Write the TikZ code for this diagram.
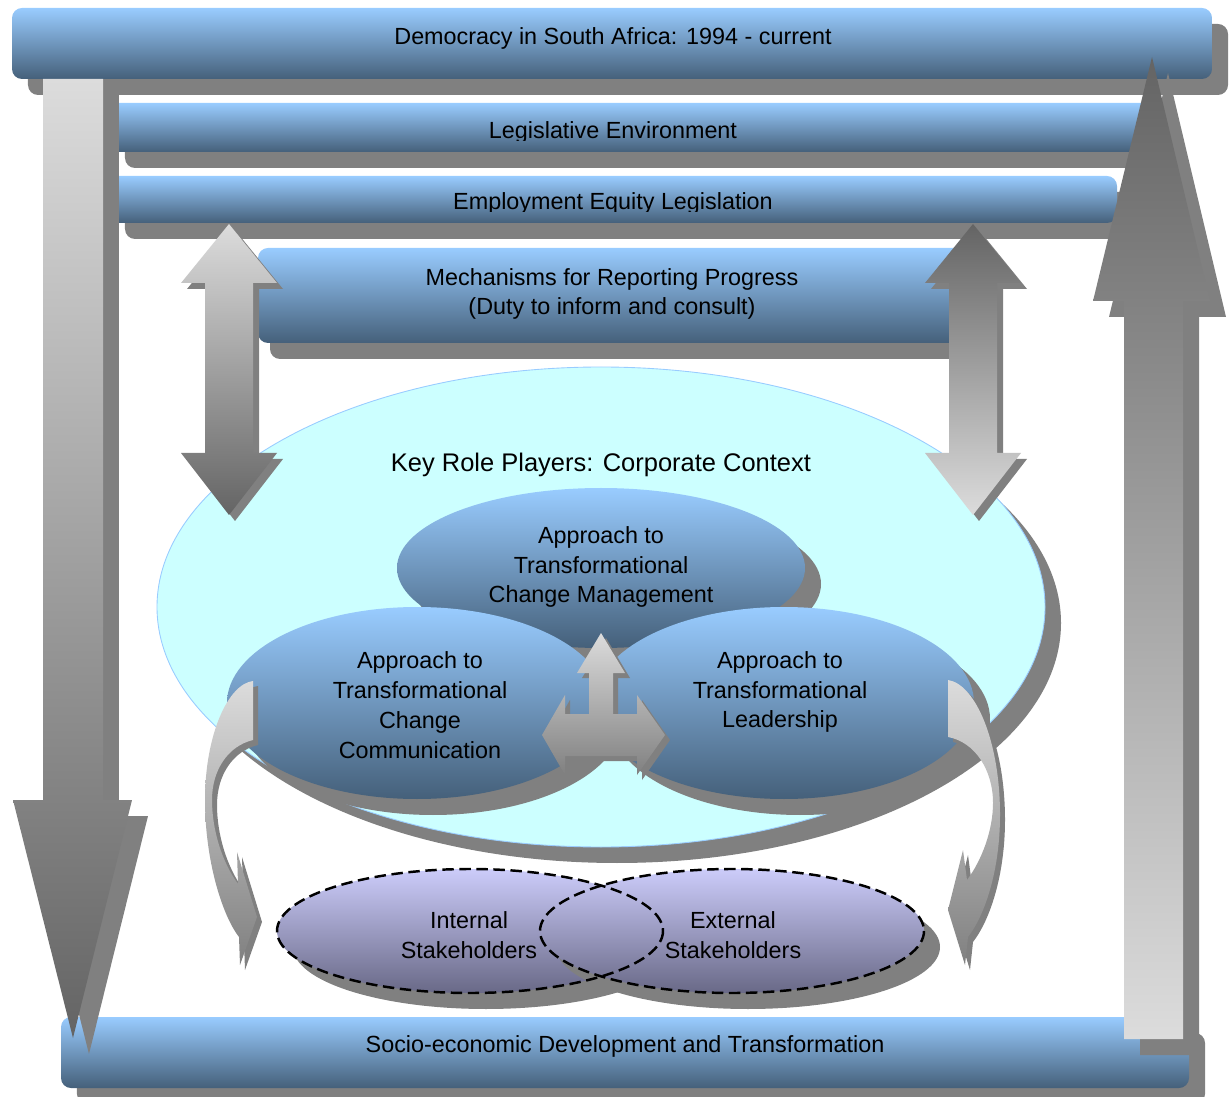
\documentclass[tikz,border=0pt]{standalone}
\usepackage{fontspec}
\setmainfont{Liberation Sans}
\usetikzlibrary{shadows}
\definecolor{barTop}{RGB}{153,204,255}
\definecolor{barBot}{RGB}{69,96,122}
\definecolor{shadowgray}{RGB}{128,128,128}
\definecolor{cyanfill}{RGB}{204,255,255}
\definecolor{cyanedge}{RGB}{153,204,255}
\definecolor{lavTop}{RGB}{204,204,250}
\definecolor{lavBot}{RGB}{105,105,135}
\definecolor{grLight}{RGB}{220,220,220}
\definecolor{grDark}{RGB}{100,100,100}
\definecolor{grMid}{RGB}{128,128,128}
\begin{document}
\begin{tikzpicture}[x=0.02cm,y=-0.02cm,
  bar/.style={top color=barTop, bottom color=barBot, rounded corners=0.2cm},
  ell/.style={top color=barTop, bottom color=barBot},
  sh16/.style={drop shadow={shadow xshift=0.32cm,shadow yshift=-0.32cm,fill=shadowgray,opacity=1}},
  sh12/.style={drop shadow={shadow xshift=0.24cm,shadow yshift=-0.32cm,fill=shadowgray,opacity=1}},
  sh6/.style={drop shadow={shadow xshift=0.12cm,shadow yshift=-0.12cm,fill=shadowgray,opacity=1}},
  sh5/.style={drop shadow={shadow xshift=0.1cm,shadow yshift=-0.1cm,fill=shadowgray,opacity=1}},
  lbl/.style={font=\fontsize{13.3}{17}\selectfont, align=center, inner sep=0pt, text=black},
  dashedge/.style={draw=black, line width=1.4pt, dash pattern=on 6.5pt off 3.2pt}]
\useasboundingbox (0,0) rectangle (1230,1097);
% top bars
\shade[bar,sh16] (12,8) rectangle (1212,79);
\shade[bar,sh16] (109,103) rectangle (1155,152);
\shade[bar,sh16] (109,176) rectangle (1117,223);
\shade[bar,sh12] (258,248) rectangle (968,343);
% key role players ellipse
\path[fill=cyanfill, draw=cyanedge, line width=0.5pt, sh16] (601,607) ellipse [x radius=444, y radius=240];
% inner ellipses
\shade[ell,sh16] (601,568) ellipse [x radius=204, y radius=80];
\shade[ell,sh16] (417,703) ellipse [x radius=190, y radius=96];
\shade[ell,sh16] (784,703) ellipse [x radius=190, y radius=96];
% centre three-way arrow
\shade[top color=grLight, bottom color=grMid, sh5]
  (601,633) -- (625,673) -- (613,673) -- (613,714) -- (637,714) -- (637,695) -- (665,735)
  -- (637,775) -- (637,756) -- (565,756) -- (565,775) -- (542,735) -- (565,695) -- (565,714)
  -- (589,714) -- (589,673) -- (577,673) -- cycle;
% vertical double arrows
\shade[top color=grLight, bottom color=grDark, sh6]
  (229,224) -- (277,283) -- (253,283) -- (253,453) -- (277,453) -- (229,515) -- (181,453)
  -- (205,453) -- (205,283) -- (181,283) -- cycle;
\shade[top color=grDark, bottom color=grLight, sh6]
  (973,224) -- (1021,283) -- (997,283) -- (997,453) -- (1021,453) -- (973,515) -- (925,453)
  -- (949,453) -- (949,283) -- (925,283) -- cycle;
% curved arrows
\shade[top color=grLight, bottom color=grMid, sh5]
  (253,681) .. controls (228,684) and (205,735) .. (205,800) .. controls (205,860) and (222,915) .. (239,937)
  -- (240,965) -- (257,917) -- (237,852) -- (238,884)
  .. controls (222,862) and (212,830) .. (212,800) .. controls (212,770) and (228,746) .. (253,740) -- cycle;
\shade[top color=grLight, bottom color=grMid, sh5]
  (948,680) .. controls (975,684) and (1000,740) .. (1000,815) .. controls (1000,870) and (985,915) .. (968,937)
  -- (965,965) -- (948,910) -- (963,850) -- (967,880)
  .. controls (982,860) and (993,830) .. (993,803) .. controls (993,770) and (975,742) .. (948,737) -- cycle;
% stakeholder ellipses
\shade[top color=lavTop, bottom color=lavBot, sh16] (470,931) ellipse [x radius=193, y radius=62];
\shade[top color=lavTop, bottom color=lavBot, sh16] (732,931) ellipse [x radius=192, y radius=62];
\draw[dashedge] (470,931) ellipse [x radius=193, y radius=62];
\draw[dashedge] (732,931) ellipse [x radius=192, y radius=62];
% bottom bar
\shade[bar,sh16] (61,1017) rectangle (1189,1088);
% big arrows
\shade[top color=grLight, bottom color=grDark, sh16]
  (43,79) -- (103,79) -- (103,800) -- (132,800) -- (73,1038) -- (13,800) -- (43,800) -- cycle;
\shade[top color=grDark, bottom color=grLight, sh16]
  (1124,1039) -- (1183,1039) -- (1183,301) -- (1210,301) -- (1152,57) -- (1093,301) -- (1124,301) -- cycle;
% texts
\node[lbl, anchor=base] (tDem) at (613,45) {Democracy in South Africa: 1994 - current};
\begin{scope}
\clip (0,100) rectangle (1230,141);
\node[lbl, anchor=base] (tLeg) at (613,139) {Legislative Environment};
\end{scope}
\begin{scope}
\clip (0,170) rectangle (1230,212);
\node[lbl, anchor=base] (tEmp) at (613,210) {Employment Equity Legislation};
\end{scope}
\node[lbl] (tMech) at (612,294) {Mechanisms for Reporting Progress\\(Duty to inform and consult)};
\node[lbl, font=\fontsize{14.5}{17}\selectfont, anchor=base] (tKey) at (601,472) {Key Role Players: Corporate Context};
\node[lbl] (tMgmt) at (601,567) {Approach to\\Transformational\\Change Management};
\node[lbl] (tComm) at (420,705) {Approach to\\Transformational\\Change\\Communication};
\node[lbl] (tLead) at (780,692) {Approach to\\Transformational\\Leadership};
\node[lbl] (tInt) at (469,935) {Internal\\Stakeholders};
\node[lbl] (tExt) at (733,935) {External\\Stakeholders};
\node[lbl, anchor=base] (tSocio) at (625,1052) {Socio-economic Development and Transformation};
\end{tikzpicture}
\end{document}
